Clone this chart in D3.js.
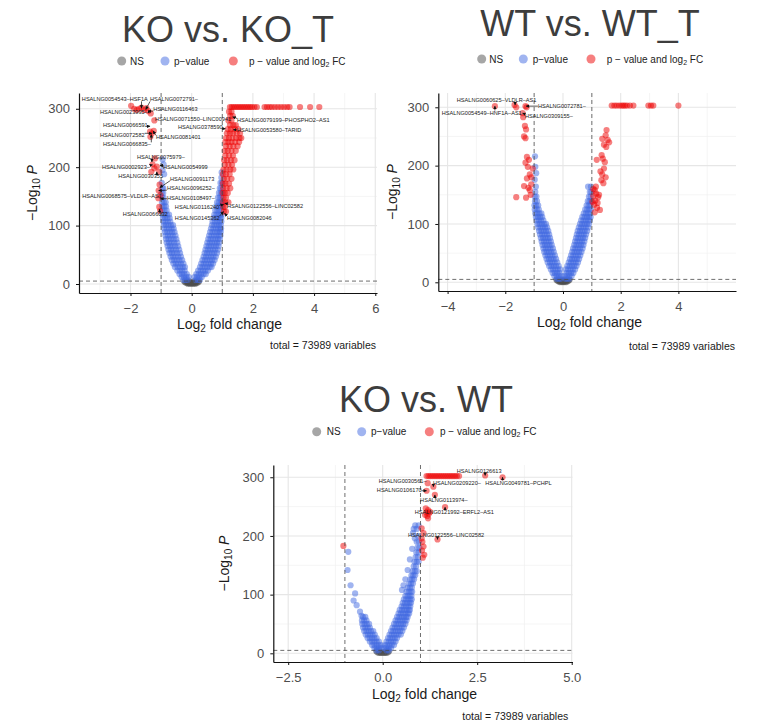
<!DOCTYPE html>
<html>
<head>
<meta charset="utf-8">
<script src="https://cdn.jsdelivr.net/npm/d3@7"></script>
<style>
  body { margin: 0; background: #fff; }
  text { font-family: "Liberation Sans", Arial, Helvetica, sans-serif; }
</style>
</head>
<body>
<svg id="chart" width="759" height="726"></svg>
<script>
// ---------------------------------------------------------------
// Volcano plot data: log2 fold change (x) vs -log10 P (y).
// Dense regions are stored as rows: [-log10 P, log2FC, log2FC, ...]
// Sparse points are stored as [log2FC, -log10 P].
// ---------------------------------------------------------------
const fcCutoff = 1;        // |log2 FC| threshold
const pCutoffLog = 5;      // -log10(1e-5)
const totalVariables = 73989;
const legendNames = ["NS", "p\u2212value", "p \u2212 value and log"];
const yTickValues = [0, 100, 200, 300];
const yMinorValues = [50, 150, 250];

// ---------------- KO vs. KO_T ----------------
const koKoT_nsRows = [
  [0.4, -0.12, -0.06, 0, 0.06, 0.12],
  [1.6, -0.17, -0.1, -0.03, 0.03, 0.1, 0.17],
  [3.0, -0.21, -0.14, -0.07, 0, 0.07, 0.14, 0.21],
  [4.4, -0.24, -0.16, -0.08, 0.08, 0.16, 0.24]
];
const koKoT_pRows = [
  [7, -0.27, -0.2, -0.13, 0.13, 0.2, 0.27],
  [12, -0.33, -0.25, -0.17, -0.09, 0.09, 0.17, 0.25, 0.33],
  [17, -0.4, -0.32, -0.24, -0.16, 0.15, 0.23, 0.31, 0.39, 0.46],
  [23, -0.47, -0.39, -0.31, -0.23, 0.21, 0.29, 0.37, 0.45, 0.53],
  [29, -0.55, -0.46, -0.38, -0.29, -0.22, 0.27, 0.35, 0.43, 0.51, 0.59, 0.65],
  [35, -0.6, -0.52, -0.44, -0.35, -0.27, 0.31, 0.39, 0.47, 0.55, 0.63, 0.7],
  [41, -0.65, -0.57, -0.49, -0.4, -0.31, 0.35, 0.43, 0.51, 0.59, 0.67, 0.75],
  [47, -0.69, -0.61, -0.53, -0.44, -0.35, 0.39, 0.47, 0.55, 0.63, 0.71, 0.79],
  [53, -0.73, -0.65, -0.57, -0.48, -0.38, 0.42, 0.5, 0.58, 0.66, 0.74, 0.83],
  [59, -0.76, -0.68, -0.6, -0.51, -0.41, 0.45, 0.53, 0.61, 0.69, 0.77, 0.86],
  [65, -0.79, -0.71, -0.63, -0.54, -0.44, 0.48, 0.56, 0.64, 0.72, 0.8, 0.88],
  [71, -0.82, -0.74, -0.66, -0.57, -0.47, 0.51, 0.59, 0.67, 0.75, 0.83, 0.9],
  [77, -0.84, -0.76, -0.68, -0.59, -0.5, 0.54, 0.62, 0.7, 0.78, 0.86, 0.92],
  [83, -0.86, -0.78, -0.7, -0.62, -0.53, 0.57, 0.65, 0.73, 0.81, 0.88, 0.94],
  [89, -0.88, -0.8, -0.72, -0.64, -0.56, 0.6, 0.68, 0.76, 0.84, 0.91, 0.95],
  [95, -0.9, -0.82, -0.74, -0.66, -0.59, 0.63, 0.71, 0.79, 0.86, 0.93, 0.96],
  [101, -0.91, -0.84, -0.76, -0.68, -0.61, 0.66, 0.74, 0.82, 0.89, 0.95],
  [107, -0.93, -0.86, -0.78, -0.7, 0.68, 0.76, 0.84, 0.91, 0.97],
  [113, -0.94, -0.87, -0.8, -0.72, 0.71, 0.79, 0.86, 0.93, 0.97],
  [119, -0.95, -0.88, -0.81, -0.74, 0.74, 0.81, 0.88, 0.94, 0.98],
  [126, -0.96, -0.89, -0.82, 0.77, 0.84, 0.9, 0.96],
  [133, -0.96, -0.9, -0.84, 0.8, 0.87, 0.93, 0.98],
  [140, -0.97, -0.91, -0.85, 0.83, 0.89, 0.95, 0.99],
  [148, -0.97, -0.92, 0.86, 0.92, 0.97],
  [156, -0.98, -0.93, 0.89, 0.95, 0.99],
  [164, -0.96, -0.93, 0.92, 0.97],
  [173, -0.98, 0.94, 0.99],
  [182, 0.97],
  [188, -0.9],
  [191, 0.98],
  [195, -0.95],
  [205, -0.92],
  [213, -0.95]
];
const koKoT_fcPoints = [
  [1.25, 303], [1.31, 303], [1.37, 303], [1.43, 303], [1.49, 303], [1.55, 303], [1.61, 303],
  [1.67, 303], [1.73, 303], [1.79, 303], [1.85, 303], [1.91, 303], [1.97, 303], [2.05, 303],
  [2.13, 303], [2.38, 303], [2.46, 303], [2.54, 303], [2.62, 303], [2.72, 303], [2.82, 303],
  [2.92, 303], [3.02, 303], [3.12, 303], [3.2, 303], [3.54, 303], [3.87, 303], [4.17, 303],
  [1.22, 295], [1.3, 295], [1.26, 288], [1.34, 288], [1.2, 280], [1.3, 280],
  [1.25, 272], [1.36, 272], [1.44, 272], [1.18, 265], [1.28, 265], [1.4, 265], [1.52, 265],
  [1.15, 258], [1.25, 258], [1.35, 258], [1.47, 258], [1.58, 258],
  [1.12, 250], [1.22, 250], [1.33, 250], [1.45, 250], [1.56, 250], [1.62, 250],
  [1.1, 243], [1.2, 243], [1.3, 243], [1.42, 243], [1.55, 243],
  [1.12, 236], [1.24, 236], [1.36, 236], [1.5, 236],
  [1.08, 228], [1.18, 228], [1.3, 228], [1.44, 228],
  [1.1, 220], [1.22, 220], [1.35, 220],
  [1.06, 212], [1.16, 212], [1.28, 212], [1.4, 212],
  [1.08, 204], [1.2, 204], [1.32, 204],
  [1.04, 196], [1.14, 196], [1.26, 196], [1.36, 196],
  [1.02, 188], [1.12, 188], [1.24, 188],
  [1.05, 180], [1.16, 180], [1.3, 180],
  [1.02, 172], [1.1, 172], [1.22, 172],
  [1.03, 164], [1.14, 164], [1.26, 164],
  [1.01, 156], [1.08, 156], [1.18, 156],
  [1.04, 148], [1.12, 148], [1.02, 140], [1.1, 140], [1.2, 140],
  [1.03, 132], [1.08, 132], [1.05, 124], [1.12, 124],
  [-1.98, 305], [-1.88, 300], [-1.8, 298], [-1.72, 300], [-1.64, 302], [-1.56, 298],
  [-1.48, 301], [-1.42, 296], [-1.34, 292], [-1.22, 280],
  [-1.36, 261], [-1.3, 258], [-1.24, 262], [-1.35, 252],
  [-1.2, 215], [-1.28, 205], [-1.14, 201], [-1.22, 198], [-1.06, 192], [-1.32, 192],
  [-1.05, 170], [-1.08, 160], [-1.02, 152], [-1.09, 147], [-1.06, 132], [-1.03, 125]
];
// [label, log2FC, -log10 P, label x, label y, anchor]
const koKoT_labels = [
  ["HSALNG0054543\u2013HSF1A", -1.64, 301, -3.59, 316, "start"],
  ["HSALNG0072791\u2013", -1.5, 299, -1.36, 316, "start"],
  ["HSALNG0023995\u2013", -1.34, 295, -3.0, 294, "start"],
  ["HSALNG0116463", -1.42, 296, -1.26, 299, "start"],
  ["HSALNG0071550\u2013LINC00941", -1.23, 278, -1.2, 282, "start"],
  ["HSALNG0066591", -1.36, 270, -2.9, 272, "start"],
  ["HSALNG0079199\u2013PHOSPHO2\u2013AS1", 1.34, 286, 1.48, 280, "start"],
  ["HSALNG0378590", 1.1, 266, -0.45, 268, "start"],
  ["HSALNG0053580\u2013TARID", 1.36, 264, 1.48, 264, "start"],
  ["HSALNG0072582", -1.3, 258, -3.0, 255, "start"],
  ["HSALNG0081401", -1.26, 262, -1.17, 251, "start"],
  ["HSALNG0066835\u2013", -1.32, 256, -2.9, 239, "start"],
  ["HSALNG0075979\u2013", -1.3, 209, -1.79, 218, "start"],
  ["HSALNG0002923\u2013", -1.28, 204, -2.93, 200, "start"],
  ["HSALNG0054999", -1.04, 203, -0.94, 200, "start"],
  ["HSALNG0030355", -1.14, 192, -2.4, 184, "start"],
  ["HSALNG0091173", -1.04, 165, -0.71, 180, "start"],
  ["HSALNG0096252\u2013", -1.08, 160, -0.81, 164, "start"],
  ["HSALNG0068575\u2013VLDLR\u2013AS1", -1.04, 150, -3.58, 151, "start"],
  ["HSALNG0108497\u2013", -1.02, 146, -0.81, 148, "start"],
  ["HSALNG0116240", 1.04, 136, -0.55, 131, "start"],
  ["HSALNG0122556\u2013LINC02582", 1.08, 138, 1.15, 134, "start"],
  ["HSALNG0066032", -1.05, 128, -2.25, 119, "start"],
  ["HSALNG0145362", 1.04, 124, -0.55, 113, "start"],
  ["HSALNG0082046", 1.08, 121, 1.15, 113, "start"]
];

// ---------------- WT vs. WT_T ----------------
const wtWtT_nsRows = [
  [0.4, -0.11, -0.05, 0, 0.05, 0.11],
  [1.6, -0.16, -0.09, -0.03, 0.03, 0.09, 0.16],
  [3.0, -0.2, -0.13, -0.06, 0, 0.06, 0.13, 0.2],
  [4.4, -0.23, -0.15, -0.07, 0.07, 0.15, 0.23]
];
const wtWtT_pRows = [
  [6, -0.22, -0.15, -0.08, 0.08, 0.15, 0.22],
  [11, -0.3, -0.22, -0.14, -0.06, 0.06, 0.14, 0.22, 0.3],
  [16, -0.36, -0.28, -0.2, -0.12, 0.12, 0.2, 0.28, 0.36],
  [22, -0.42, -0.34, -0.26, -0.18, -0.1, 0.1, 0.18, 0.26, 0.34, 0.42],
  [28, -0.48, -0.4, -0.32, -0.24, -0.15, 0.15, 0.23, 0.31, 0.39, 0.47],
  [34, -0.53, -0.45, -0.37, -0.29, -0.2, 0.2, 0.28, 0.36, 0.44, 0.52],
  [40, -0.57, -0.49, -0.41, -0.33, -0.24, 0.24, 0.32, 0.4, 0.48, 0.56],
  [46, -0.61, -0.53, -0.45, -0.37, -0.28, 0.28, 0.36, 0.44, 0.52, 0.6],
  [52, -0.65, -0.57, -0.49, -0.41, -0.32, 0.32, 0.4, 0.48, 0.56, 0.64],
  [58, -0.68, -0.6, -0.52, -0.44, -0.35, 0.35, 0.43, 0.51, 0.59, 0.68],
  [64, -0.71, -0.63, -0.55, -0.47, -0.39, 0.39, 0.47, 0.55, 0.63, 0.71],
  [70, -0.74, -0.66, -0.58, -0.5, -0.42, 0.42, 0.5, 0.58, 0.66, 0.74],
  [76, -0.77, -0.69, -0.61, -0.53, -0.45, 0.45, 0.53, 0.61, 0.69, 0.77],
  [82, -0.8, -0.72, -0.64, -0.56, -0.48, 0.48, 0.56, 0.64, 0.72, 0.8],
  [88, -0.83, -0.75, -0.67, -0.59, -0.51, 0.51, 0.59, 0.67, 0.75, 0.84],
  [94, -0.86, -0.78, -0.7, -0.62, -0.55, 0.55, 0.63, 0.71, 0.79, 0.87],
  [100, -0.89, -0.81, -0.73, -0.65, -0.59, 0.59, 0.67, 0.75, 0.83, 0.9],
  [106, -0.91, -0.84, -0.76, -0.68, 0.63, 0.71, 0.79, 0.87, 0.93],
  [112, -0.94, -0.87, -0.79, -0.72, 0.67, 0.75, 0.83, 0.9, 0.96],
  [118, -0.96, -0.89, -0.82, -0.75, 0.72, 0.8, 0.87, 0.94],
  [125, -0.98, -0.91, -0.84, 0.77, 0.84, 0.91, 0.97],
  [132, -0.99, -0.93, -0.86, 0.82, 0.89, 0.95],
  [139, -0.97, -0.9, 0.86, 0.92, 0.98],
  [147, -0.98, -0.92, 0.9, 0.96],
  [155, -0.96, 0.93, 0.98],
  [164, -0.94, 0.87, 0.97],
  [176, -0.98],
  [187, -0.93],
  [198, -0.96],
  [216, -0.97]
];
const wtWtT_fcPoints = [
  [1.69, 303], [1.78, 303], [1.86, 303], [1.95, 303], [2.03, 303], [2.09, 303], [2.15, 303],
  [2.22, 303], [2.32, 303], [2.44, 303], [2.96, 303], [3.05, 303], [3.13, 303], [4.0, 303],
  [1.51, 261], [1.48, 252], [1.36, 246], [1.55, 244], [1.6, 240], [1.42, 236], [1.5, 232],
  [1.17, 210], [1.38, 212], [1.45, 206], [1.34, 218], [1.42, 195], [1.3, 190], [1.36, 185],
  [1.48, 180], [1.33, 175], [1.4, 170], [1.1, 158], [1.15, 152], [1.05, 148], [1.22, 146],
  [1.12, 140], [1.2, 136], [1.08, 133], [1.18, 128], [1.28, 124], [1.02, 138], [1.25, 150],
  [1.1, 120], [1.05, 160], [1.14, 164],
  [-2.36, 302], [-1.68, 304], [-1.62, 300], [-1.3, 302], [-1.26, 300], [-1.4, 290],
  [-1.38, 283], [-1.32, 268], [-1.28, 262], [-1.35, 250], [-1.3, 247], [-1.25, 215],
  [-1.18, 210], [-1.3, 205], [-1.22, 198], [-1.15, 185], [-1.1, 180], [-1.25, 178],
  [-1.35, 165], [-1.2, 162], [-1.15, 158], [-1.62, 146], [-1.28, 145], [-1.1, 168],
  [-1.05, 195], [-1.12, 150]
];
const wtWtT_labels = [
  ["HSALNG0060625\u2013VLDLR\u2013AS1", -1.66, 304, -3.68, 312, "start"],
  ["HSALNG0054549\u2013HNF1A\u2013AS1", -2.36, 302, -4.2, 291, "start"],
  ["HSALNG0072781\u2013", -1.28, 302, -0.87, 303, "start"],
  ["HSALNG0309155\u2013", -1.4, 290, -1.32, 285, "start"]
];

// ---------------- KO vs. WT ----------------
const koWt_nsRows = [
  [0.5, -0.1, -0.05, 0, 0.05, 0.1],
  [2.0, -0.14, -0.07, 0, 0.07, 0.14],
  [3.5, -0.17, -0.09, 0.09, 0.17]
];
const koWt_pRows = [
  [5, -0.16, -0.1, 0.1, 0.16],
  [9, -0.22, -0.16, -0.1, -0.04, 0.04, 0.1, 0.16, 0.22],
  [14, -0.28, -0.22, -0.16, -0.1, -0.04, 0.06, 0.12, 0.18, 0.24, 0.3],
  [20, -0.34, -0.28, -0.22, -0.16, -0.1, 0.1, 0.16, 0.22, 0.28, 0.34],
  [26, -0.4, -0.34, -0.28, -0.22, -0.16, 0.14, 0.2, 0.26, 0.32, 0.38],
  [32, -0.45, -0.39, -0.33, -0.27, -0.21, 0.18, 0.24, 0.3, 0.36, 0.42, 0.48],
  [38, -0.49, -0.43, -0.37, -0.31, -0.25, 0.22, 0.28, 0.34, 0.4, 0.46, 0.52],
  [44, -0.52, -0.46, -0.4, -0.34, 0.26, 0.32, 0.38, 0.44, 0.5, 0.56],
  [50, -0.54, -0.48, -0.42, -0.36, 0.3, 0.36, 0.42, 0.48, 0.54, 0.6],
  [56, -0.55, -0.49, -0.43, 0.34, 0.4, 0.46, 0.52, 0.58, 0.63],
  [62, -0.52, -0.46, 0.38, 0.44, 0.5, 0.56, 0.62, 0.66],
  [68, 0.42, 0.48, 0.54, 0.6, 0.66, 0.7],
  [74, 0.45, 0.51, 0.57, 0.63, 0.69, 0.72],
  [80, 0.5, 0.56, 0.62, 0.68, 0.73],
  [86, 0.53, 0.59, 0.65, 0.71, 0.75],
  [92, 0.56, 0.62, 0.68, 0.73, 0.77],
  [98, 0.6, 0.66, 0.71, 0.76],
  [105, 0.63, 0.69, 0.74, 0.78],
  [112, 0.66, 0.72, 0.77],
  [119, 0.7, 0.75, 0.8],
  [126, 0.73, 0.78, 0.83],
  [133, 0.76, 0.81, 0.86],
  [140, 0.79, 0.85, 0.9],
  [148, 0.82, 0.88],
  [156, 0.84, 0.9, 0.95],
  [164, 0.87, 0.93],
  [172, 0.89, 0.95],
  [180, 0.92, 0.97],
  [190, 0.9, 0.96],
  [200, 0.93],
  [212, 0.82, 0.9],
  [218, 0.86, 0.95]
];
const koWt_pPoints = [
  [-0.91, 173], [-0.93, 142], [-0.85, 116], [-0.73, 102], [-0.77, 90], [-0.69, 82],
  [-0.6, 71], [-0.56, 64], [0.55, 116], [0.51, 108], [0.6, 126], [0.66, 142],
  [0.72, 160], [0.78, 178], [0.85, 196], [0.8, 205]
];
const koWt_fcPoints = [
  [1.16, 302], [1.21, 302], [1.26, 302], [1.31, 302], [1.36, 302], [1.41, 302], [1.46, 302],
  [1.51, 302], [1.56, 302], [1.61, 302], [1.66, 302], [1.71, 302], [1.76, 302], [1.81, 302],
  [1.86, 302], [1.91, 302], [1.96, 302], [2.02, 302],
  [2.71, 303], [3.17, 300], [1.19, 290], [1.34, 284], [1.16, 277], [1.38, 270], [1.65, 249],
  [1.14, 247], [1.2, 244], [1.16, 240], [1.22, 238], [1.18, 234], [1.25, 241], [1.12, 236],
  [1.2, 230], [1.03, 213], [1.45, 194], [1.08, 205], [1.05, 190], [1.08, 182], [1.04, 175],
  [1.1, 168], [1.06, 163], [1.03, 196], [-1.04, 183]
];
const koWt_labels = [
  ["HSALNG0126613", 2.71, 303, 1.96, 311, "start"],
  ["HSALNG0049781\u2013PCHPL", 3.17, 300, 2.71, 291, "start"],
  ["HSALNG0030561\u2013", 1.19, 290, 1.16, 294, "end"],
  ["HSALNG0209220\u2013", 1.34, 284, 1.33, 290, "start"],
  ["HSALNG0106170", 1.16, 277, 1.03, 278, "end"],
  ["HSALNG0113974\u2013", 1.38, 270, 0.99, 261, "start"],
  ["HSALNG0121992\u2013ERFL2\u2013AS1", 1.65, 249, 0.85, 241, "start"],
  ["HSALNG0122556\u2013LINC02582", 1.45, 194, 0.67, 202, "start"]
];

// ---------------------------------------------------------------
function rowsToPoints(rows) {
  return rows.flatMap(r => r.slice(1).map(v => [v, r[0]]));
}
const minusFmt = d => (d < 0 ? "\u2212" + Math.abs(d) : String(d));
const minusFmt1 = d => (d < 0 ? "\u2212" + Math.abs(d).toFixed(1) : d.toFixed(1));

const colors = { ns: "#4D4D4D", p: "#4169E1", fc: "#EE0000" };

const panels = [
  {
    title: "KO vs. KO_T",
    ns: rowsToPoints(koKoT_nsRows), p: rowsToPoints(koKoT_pRows), fc: koKoT_fcPoints,
    labels: koKoT_labels,
    xTicks: [-2, 0, 2, 4, 6], xMinor: [-3, -1, 1, 3, 5], xFmt: minusFmt,
    box: { left: 79, right: 377, top: 93, bottom: 293 },
    xLim: [-3.683, 6.056], yLim: [-15.4, 327],
    titleAt: [228, 42], legendY: 61, legendDots: [121.7, 165, 233.3], legendText: [130, 174, 249],
    xTitleAt: [229.5, 329], yTitleAt: [37, 193], totalAt: [376, 349]
  },
  {
    title: "WT vs. WT_T",
    ns: rowsToPoints(wtWtT_nsRows), p: rowsToPoints(wtWtT_pRows), fc: wtWtT_fcPoints,
    labels: wtWtT_labels,
    xTicks: [-4, -2, 0, 2, 4], xMinor: [-3, -1, 1, 3, 5], xFmt: minusFmt,
    box: { left: 438.3, right: 736, top: 93, bottom: 291 },
    xLim: [-4.322, 5.997], yLim: [-14.9, 324.5],
    titleAt: [590, 36], legendY: 59, legendDots: [481.7, 523.3, 591], legendText: [489.3, 532.7, 606.7],
    xTitleAt: [589.5, 327], yTitleAt: [397, 192], totalAt: [735, 350]
  },
  {
    title: "KO vs. WT",
    ns: rowsToPoints(koWt_nsRows), p: rowsToPoints(koWt_pRows).concat(koWt_pPoints), fc: koWt_fcPoints,
    labels: koWt_labels,
    xTicks: [-2.5, 0, 2.5, 5], xMinor: [-1.25, 1.25, 3.75], xFmt: minusFmt1,
    box: { left: 273.3, right: 572.5, top: 465, bottom: 662 },
    xLim: [-2.894, 5.021], yLim: [-14.8, 320.9],
    titleAt: [426, 412], legendY: 431.7, legendDots: [316.7, 361.7, 429.3], legendText: [326.7, 371, 440],
    xTitleAt: [424.5, 699], yTitleAt: [229, 563.5], totalAt: [568.3, 720]
  }
];

const svg = d3.select("#chart");
svg.append("rect").attr("width", 759).attr("height", 726).attr("fill", "#fff");

const defs = svg.append("defs");
defs.append("marker")
  .attr("id", "arrowHead")
  .attr("viewBox", "0 0 10 10")
  .attr("refX", 9).attr("refY", 5)
  .attr("markerWidth", 3.4).attr("markerHeight", 3.4)
  .attr("markerUnits", "userSpaceOnUse")
  .attr("orient", "auto")
  .append("path").attr("d", "M0,0L10,5L0,10Z").attr("fill", "#111");

function drawPanel(c) {
  const g = svg.append("g");
  const x = d3.scaleLinear().domain(c.xLim).range([c.box.left, c.box.right]);
  const y = d3.scaleLinear().domain(c.yLim).range([c.box.bottom, c.box.top]);

  // grid lines
  const grid = g.append("g");
  grid.selectAll(".vx").data(c.xMinor).join("line")
    .attr("x1", d => x(d)).attr("x2", d => x(d))
    .attr("y1", c.box.top).attr("y2", c.box.bottom)
    .attr("stroke", "#f1f1f1").attr("stroke-width", 0.7);
  grid.selectAll(".hy").data(yMinorValues).join("line")
    .attr("x1", c.box.left).attr("x2", c.box.right)
    .attr("y1", d => y(d)).attr("y2", d => y(d))
    .attr("stroke", "#f1f1f1").attr("stroke-width", 0.7);
  grid.selectAll(".vX").data(c.xTicks).join("line")
    .attr("x1", d => x(d)).attr("x2", d => x(d))
    .attr("y1", c.box.top).attr("y2", c.box.bottom)
    .attr("stroke", "#e6e6e6").attr("stroke-width", 1.1);
  grid.selectAll(".hY").data(yTickValues).join("line")
    .attr("x1", c.box.left).attr("x2", c.box.right)
    .attr("y1", d => y(d)).attr("y2", d => y(d))
    .attr("stroke", "#e6e6e6").attr("stroke-width", 1.1);

  // points: NS, p-value only, p-value and log2 FC
  const pts = g.append("g");
  const layers = [["ns", c.ns], ["p", c.p], ["fc", c.fc]];
  layers.forEach(([key, data]) => {
    pts.append("g").selectAll("circle").data(data).join("circle")
      .attr("cx", d => x(d[0])).attr("cy", d => y(d[1]))
      .attr("r", 3.1)
      .attr("fill", colors[key]).attr("fill-opacity", 0.5);
  });

  // cut-off lines
  const cut = g.append("g").attr("stroke", "#4a4a4a").attr("stroke-width", 0.8)
    .attr("stroke-dasharray", "4,3").attr("fill", "none");
  cut.selectAll("line.v").data([-fcCutoff, fcCutoff]).join("line")
    .attr("x1", d => x(d)).attr("x2", d => x(d))
    .attr("y1", c.box.top).attr("y2", c.box.bottom);
  cut.append("line")
    .attr("x1", c.box.left).attr("x2", c.box.right)
    .attr("y1", y(pCutoffLog)).attr("y2", y(pCutoffLog));

  // axes
  const xAxis = d3.axisBottom(x).tickValues(c.xTicks).tickFormat(c.xFmt)
    .tickSize(3).tickSizeOuter(0).tickPadding(8);
  const yAxis = d3.axisLeft(y).tickValues(yTickValues).tickFormat(minusFmt)
    .tickSize(3).tickSizeOuter(0).tickPadding(6);
  const gx = g.append("g").attr("transform", `translate(0,${c.box.bottom})`).call(xAxis);
  const gy = g.append("g").attr("transform", `translate(${c.box.left},0)`).call(yAxis);
  [gx, gy].forEach(a => {
    a.select(".domain").attr("stroke", "#111").attr("stroke-width", 1.2);
    a.selectAll(".tick line").attr("stroke", "#111").attr("stroke-width", 1);
    a.selectAll(".tick text").attr("fill", "#4d4d4d").attr("font-size", 13)
      .attr("font-family", "Liberation Sans, Arial, sans-serif");
  });

  // labels with connectors
  const lab = g.append("g");
  c.labels.forEach(([t, px, py, lx, ly, anchor]) => {
    const tx = lab.append("text")
      .attr("x", x(lx)).attr("y", y(ly))
      .attr("dy", "0.35em")
      .attr("text-anchor", anchor)
      .attr("font-size", 5.6).attr("fill", "#1a1a1a")
      .text(t);
    const bb = tx.node().getBBox();
    const X = x(px), Y = y(py);
    const cx = Math.max(bb.x, Math.min(X, bb.x + bb.width));
    const cy = Math.max(bb.y + 1, Math.min(Y, bb.y + bb.height - 1));
    if (Math.hypot(X - cx, Y - cy) > 1.5) {
      lab.append("line")
        .attr("x1", cx).attr("y1", cy).attr("x2", X).attr("y2", Y)
        .attr("stroke", "#111").attr("stroke-width", 0.7)
        .attr("marker-end", "url(#arrowHead)");
    }
  });

  // title
  g.append("text").attr("x", c.titleAt[0]).attr("y", c.titleAt[1])
    .attr("text-anchor", "middle").attr("font-size", 36).attr("fill", "#3d3d3d")
    .text(c.title);

  // legend
  const legColors = ["#a6a6a6", "#a0b4f0", "#f67f7f"];
  legColors.forEach((col, i) => {
    g.append("circle").attr("cx", c.legendDots[i]).attr("cy", c.legendY)
      .attr("r", 4.5).attr("fill", col);
    const lt = g.append("text").attr("x", c.legendText[i]).attr("y", c.legendY)
      .attr("dy", "0.35em").attr("font-size", 10).attr("fill", "#222")
      .text(legendNames[i]);
    if (i === 2) {
      lt.append("tspan").attr("font-size", 7).attr("dy", 2).text("2");
      lt.append("tspan").attr("dy", -2).text(" FC");
    }
  });

  // axis titles
  const xt = g.append("text").attr("x", c.xTitleAt[0]).attr("y", c.xTitleAt[1])
    .attr("text-anchor", "middle").attr("font-size", 14).attr("fill", "#1a1a1a");
  xt.append("tspan").text("Log");
  xt.append("tspan").attr("font-size", 10).attr("dy", 3).text("2");
  xt.append("tspan").attr("dy", -3).text(" fold change");

  const yt = g.append("text")
    .attr("transform", `translate(${c.yTitleAt[0]},${c.yTitleAt[1]}) rotate(-90)`)
    .attr("text-anchor", "middle").attr("font-size", 14).attr("fill", "#1a1a1a");
  yt.append("tspan").text("\u2212Log");
  yt.append("tspan").attr("font-size", 10).attr("dy", 3).text("10");
  yt.append("tspan").attr("dy", -3).text(" ");
  yt.append("tspan").attr("font-style", "italic").text("P");

  // caption
  g.append("text").attr("x", c.totalAt[0]).attr("y", c.totalAt[1])
    .attr("text-anchor", "end").attr("font-size", 10.5).attr("fill", "#1a1a1a")
    .text(`total = ${totalVariables} variables`);
}

panels.forEach(drawPanel);
</script>
</body>
</html>
